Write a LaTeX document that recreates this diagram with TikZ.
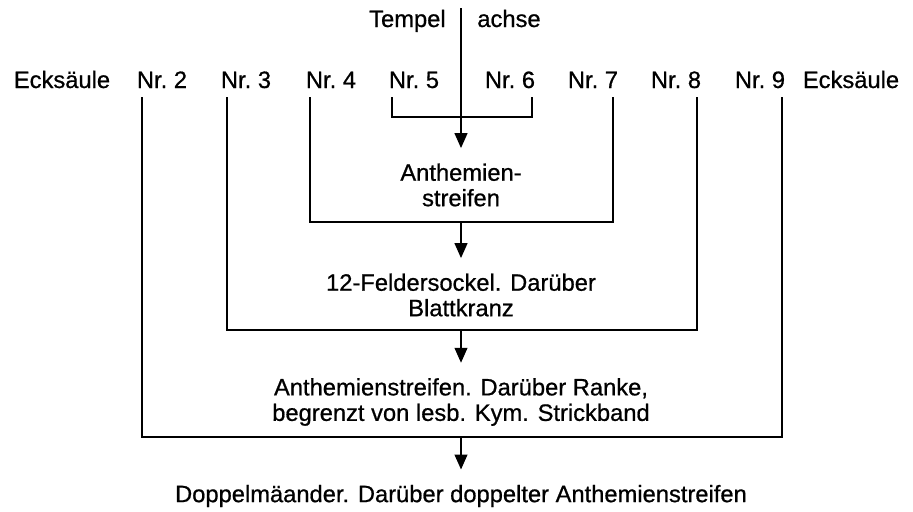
\documentclass[tikz,border=0pt]{standalone}
\usepackage{fontspec}
\setmainfont[FakeBold=0.7]{Liberation Sans}
\usetikzlibrary{arrows.meta, positioning}

\begin{document}
\begin{tikzpicture}[
    x=0.02cm, y=-0.02cm,
    every node/.style={inner sep=0pt, font=\fontsize{13.5}{14.5}\selectfont},
    lab/.style={anchor=base, text depth=0pt, inner ysep=0.18cm},
    txt/.style={align=center},
    line/.style={line width=1.4pt},
    arr/.style={line width=1.4pt, -{Triangle[length=0.3cm, width=0.25cm]}, shorten >=0.3cm}
]
\useasboundingbox (0,0) rectangle (913,511);

% Tempelachse
\coordinate (axtop) at (461,8);
\node[lab, anchor=base east] (tempel) at (446,27) {Tempel};
\node[lab, anchor=base west] (achse) at (477,27) {achse};

% Saeulen
\node[lab] (eckl) at (62,88) {Ecksäule};
\node[lab] (n2) at (162,88) {Nr.~2};
\node[lab] (n3) at (246,88) {Nr.~3};
\node[lab] (n4) at (331,88) {Nr.~4};
\node[lab] (n5) at (414,88) {Nr.~5};
\node[lab] (n6) at (510,88) {Nr.~6};
\node[lab] (n7) at (593,88) {Nr.~7};
\node[lab] (n8) at (676,88) {Nr.~8};
\node[lab] (n9) at (760,88) {Nr.~9};
\node[lab] (eckr) at (851,88) {Ecksäule};

% Ecken der Klammern
\coordinate (b5) at (392,117);
\coordinate (b6) at (532,117);
\coordinate (b4) at (310,222);
\coordinate (b7) at (613,222);
\coordinate (b3) at (227,330);
\coordinate (b8) at (697,330);
\coordinate (b2) at (142,437);
\coordinate (b9) at (782,437);

% Friese
\node[txt] (t1) at (461,185) {Anthemien-\\streifen};
\node[txt] (t2) at (461,295) {12-Feldersockel. Darüber\\Blattkranz};
\node[txt] (t3) at (461,402) {Anthemienstreifen. Darüber Ranke,\\begrenzt von lesb. Kym. Strickband};
\node[txt] (t4) at (461,496) {Doppelmäander. Darüber doppelter Anthemienstreifen};

% Klammern
\draw[line] (n5.south -| b5) -- (b5) -- (b6) -- (n6.south -| b6);
\draw[line] (n4.south -| b4) -- (b4) -- (b7) -- (n7.south -| b7);
\draw[line] (n3.south -| b3) -- (b3) -- (b8) -- (n8.south -| b8);
\draw[line] (n2.south -| b2) -- (b2) -- (b9) -- (n9.south -| b9);

% Pfeile
\draw[arr] (axtop) -- (t1.north);
\draw[arr] (b4 -| t1) -- (t2.north);
\draw[arr] (b3 -| t2) -- (t3.north);
\draw[arr] (b2 -| t3) -- (t4.north);

\end{tikzpicture}
\end{document}
